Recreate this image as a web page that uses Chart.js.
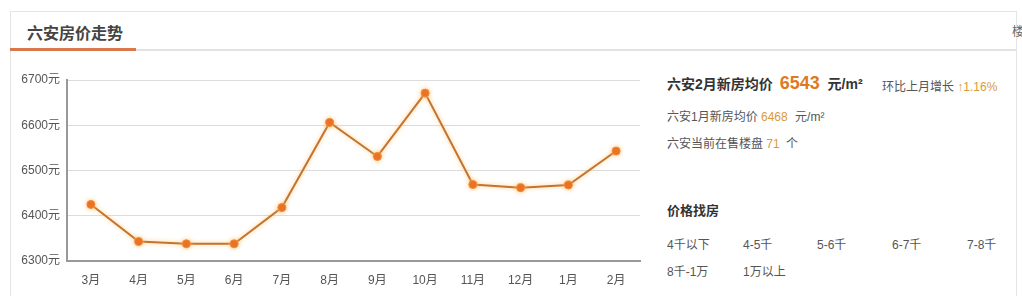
<!DOCTYPE html>
<html>
<head>
<meta charset="utf-8">
<script src="https://cdn.jsdelivr.net/npm/chart.js@4/dist/chart.umd.min.js"></script>
<style>
    body { margin: 0; background: #fff; font-family: "Liberation Sans", "Noto Sans CJK SC", sans-serif; color: #333; }
    #page { position: relative; width: 1022px; height: 296px; overflow: hidden; }
    .box { position: absolute; left: 10px; top: 11px; width: 1005px; height: 290px; border-top: 1px solid #e4e4e4; border-left: 1px solid #e4e4e4; border-right: 1px solid #e4e4e4; }
    .tabline { position: absolute; left: 10px; top: 49px; width: 1006px; height: 2px; background: #e2e2e2; }
    .tabon { position: absolute; left: 10px; top: 48px; width: 126px; height: 3px; background: #d9784a; }
    .title { position: absolute; left: 27px; top: 20px; font-size: 16px; font-weight: bold; color: #444; }
    .more { position: absolute; left: 1012px; top: 22px; font-size: 12px; color: #666; }
    #chartwrap { position: absolute; left: 0; top: 60px; width: 650px; height: 236px; }
    .t { position: absolute; font-size: 12px; color: #555; white-space: nowrap; }
    .b { font-weight: bold; color: #333; font-size: 14px; }
    .o { color: #e07a1f; }
    .o2 { color: #d99a3a; }
</style>
</head>
<body>
<div id="page">
    <div class="box"></div>
    <div class="tabline"></div>
    <div class="tabon"></div>
    <div class="title">六安房价走势</div>
    <div class="more">楼</div>
    <div id="chartwrap"><canvas id="chart"></canvas></div>

    <div class="t b" style="left:667px;top:73px;">六安2月新房均价 <span class="o" style="font-size:18px;margin:0 4px 0 3px;">6543</span> 元/m²</div>
    <div class="t" style="left:882px;top:77px;">环比上月增长 <span class="o2">↑1.16%</span></div>
    <div class="t" style="left:667px;top:107px;">六安1月新房均价 <span class="o2" style="margin-right:4px;">6468</span> 元/m²</div>
    <div class="t" style="left:667px;top:134px;">六安当前在售楼盘 <span class="o2" style="margin-right:3px;">71</span> 个</div>
    <div class="t b" style="left:667px;top:200px;font-size:13px;">价格找房</div>
    <div class="t" style="left:667px;top:235px;">4千以下</div>
    <div class="t" style="left:743px;top:235px;">4-5千</div>
    <div class="t" style="left:817px;top:235px;">5-6千</div>
    <div class="t" style="left:892px;top:235px;">6-7千</div>
    <div class="t" style="left:967px;top:235px;">7-8千</div>
    <div class="t" style="left:667px;top:262px;">8千-1万</div>
    <div class="t" style="left:743px;top:262px;">1万以上</div>
</div>
<script>
const months = ['3月', '4月', '5月', '6月', '7月', '8月', '9月', '10月', '11月', '12月', '1月', '2月'];
const prices = [6425, 6343, 6338, 6338, 6418, 6606, 6531, 6671, 6469, 6462, 6468, 6543];
const yTicks = [6300, 6400, 6500, 6600, 6700];

// soft glow under the line
const glow = {
    id: 'glow',
    beforeDatasetsDraw(chart) {
        const ctx = chart.ctx;
        ctx.save();
        ctx.shadowColor = 'rgba(255, 190, 100, 0.8)';
        ctx.shadowBlur = 4;
    },
    afterDatasetsDraw(chart) {
        chart.ctx.restore();
    }
};

function renderChart() {
    const ctx = document.getElementById('chart').getContext('2d');
    new Chart(ctx, {
        type: 'line',
        data: {
            labels: months,
            datasets: [{
                data: prices,
                borderColor: '#c4742e',
                borderWidth: 2,
                pointBackgroundColor: '#e8661a',
                pointBorderColor: '#f08a3a',
                pointBorderWidth: 1,
                pointRadius: 4,
                tension: 0
            }]
        },
        options: {
            responsive: true,
            maintainAspectRatio: false,
            animation: false,
            layout: { padding: { top: 20, right: 10, left: 0, bottom: 0 } },
            plugins: { legend: { display: false }, tooltip: { enabled: false } },
            scales: {
                x: {
                    offset: true,
                    grid: { display: false },
                    border: { color: '#999', width: 2 },
                    ticks: { color: '#555', font: { size: 12, family: '"Liberation Sans", "Noto Sans CJK SC"' }, padding: 4 },
                    afterFit(scale) { scale.height = 35; }
                },
                y: {
                    min: 6300,
                    max: 6700,
                    afterBuildTicks(scale) { scale.ticks = yTicks.map(v => ({ value: v })); },
                    grid: { color: '#dcdcdc', drawTicks: false },
                    border: { color: '#999', width: 2 },
                    ticks: {
                        color: '#555',
                        padding: 7,
                        font: { size: 12, family: '"Liberation Sans", "Noto Sans CJK SC"' },
                        callback: v => v + '元'
                    },
                    afterFit(scale) { scale.width = 67; }
                }
            }
        },
        plugins: [glow]
    });
}

renderChart();
</script>
</body>
</html>
